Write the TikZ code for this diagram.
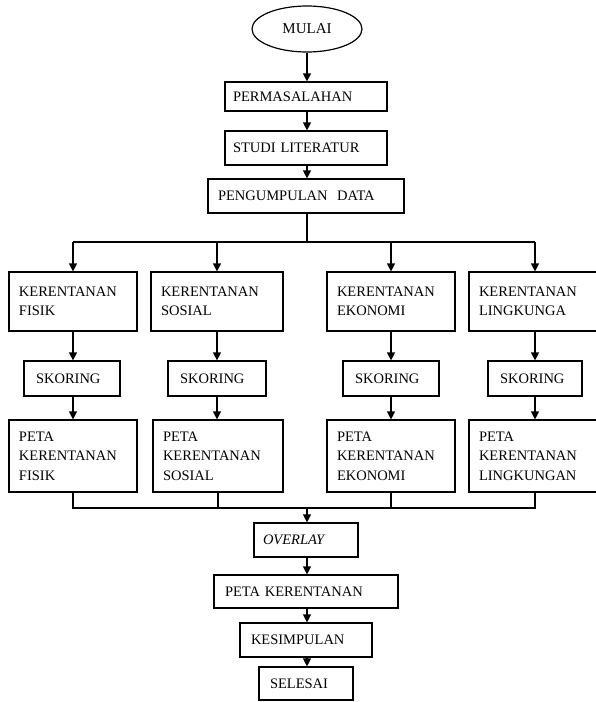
\documentclass[tikz,border=0pt]{standalone}
\usepackage{fontspec}
\setmainfont{Liberation Serif}
\usetikzlibrary{arrows.meta,shapes.geometric}
\tikzset{
  box/.style={draw, rectangle, align=left, inner xsep=10pt, inner ysep=0pt,
    font=\fontsize{14.5}{19.5}\selectfont, line width=1.2pt},
  line/.style={line width=1.2pt},
  arr/.style={line width=1.2pt, -{Triangle[width=8pt,length=8pt]}},
}
\begin{document}
\begin{tikzpicture}[x=1pt,y=-1pt]
\useasboundingbox (0,0) rectangle (596,702);
\clip (0,0) rectangle (596,702);
% center column
\node[draw, ellipse, line width=1.2pt, minimum width=110pt, minimum height=46pt,
  inner sep=0pt, font=\fontsize{15}{16}\selectfont] (mulai) at (307,29) {MULAI};
\node[box, minimum height=29pt, inner xsep=8pt, text width=146pt] (perm) at (306,96.5) {PERMASALAHAN};
\node[box, text width=146pt, minimum height=34pt, inner xsep=8pt] (studi) at (306,148) {STUDI LITERATUR};
\node[box, text width=176pt, minimum height=34pt] (kumpul) at (306,196) {PENGUMPULAN\ \ DATA};
% top row
\node[box, text width=108pt, minimum height=59pt] (kf) at (73,301.5) {KERENTANAN\\FISIK};
\node[box, text width=112pt, minimum height=59pt] (ks) at (217,301.5) {KERENTANAN\\SOSIAL};
\node[box, text width=108pt, minimum height=59pt] (ke) at (391,301.5) {KERENTANAN\\EKONOMI};
\node[box, text width=112pt, minimum height=59pt] (kl) at (535,301.5) {KERENTANAN\\LINGKUNGA};
% skoring
\node[box, text width=72pt, minimum height=35pt, inner xsep=12pt] (sf) at (72,378.5) {SKORING};
\node[box, text width=74pt, minimum height=35pt, inner xsep=12pt] (ss) at (217,378.5) {SKORING};
\node[box, text width=72pt, minimum height=35pt, inner xsep=12pt] (se) at (391,378.5) {SKORING};
\node[box, text width=70pt, minimum height=35pt, inner xsep=12pt] (sl) at (535,378.5) {SKORING};
% peta
\node[box, text width=108pt, minimum height=72pt] (pf) at (73,456) {PETA\\KERENTANAN\\FISIK};
\node[box, text width=110pt, minimum height=72pt] (ps) at (218,456) {PETA\\KERENTANAN\\SOSIAL};
\node[box, text width=108pt, minimum height=72pt] (pe) at (391,456) {PETA\\KERENTANAN\\EKONOMI};
\node[box, text width=112pt, minimum height=72pt] (pl) at (535,456) {PETA\\KERENTANAN\\LINGKUNGAN};
% bottom column
\node[box, text width=86pt, minimum height=34pt, inner xsep=9pt] (over) at (306,540) {\textit{OVERLAY}};
\node[box, text width=162pt, minimum height=33pt, inner xsep=11pt] (petak) at (306,591.5) {PETA KERENTANAN};
\node[box, text width=110pt, minimum height=34pt, inner xsep=11pt] (kesim) at (306,640) {KESIMPULAN};
\node[box, text width=72pt, minimum height=33pt, inner xsep=11pt] (seles) at (306,683.5) {SELESAI};
% connectors top
\draw[arr] (mulai.south) -- (perm.north -| mulai.south);
\draw[arr] (perm.south -| mulai.south) -- (studi.north -| mulai.south);
\draw[arr] (studi.south -| mulai.south) -- (kumpul.north -| mulai.south);
\coordinate (bus) at (307,242);
\draw[line] (kumpul.south -| bus) -- (bus);
\draw[line] (kf.north |- bus) -- (kl.north |- bus);
\foreach \n/\s in {kf/sf, ks/ss, ke/se, kl/sl}{
  \draw[arr] (\n.north |- bus) -- (\n.north);
  \draw[arr] (\n.south) -- (\s.north -| \n.south);
}
\draw[arr] (sf.south -| kf.south) -- (pf.north -| kf.south);
\draw[arr] (ss.south -| ks.south) -- (ps.north -| ks.south);
\draw[arr] (se.south -| ke.south) -- (pe.north -| ke.south);
\draw[arr] (sl.south -| kl.south) -- (pl.north -| kl.south);
% connectors bottom
\coordinate (bus2) at (307,508);
\draw[line] (pf.south) -- (pf.south |- bus2) -- (pl.south |- bus2) -- (pl.south);
\draw[line] (ps.south) -- (ps.south |- bus2);
\draw[line] (pe.south) -- (pe.south |- bus2);
\draw[arr] (bus2) -- (over.north -| bus2);
\draw[arr] (over.south -| bus2) -- (petak.north -| bus2);
\draw[arr] (petak.south -| bus2) -- (kesim.north -| bus2);
\draw[arr] (kesim.south -| bus2) -- (seles.north -| bus2);
\end{tikzpicture}
\end{document}
